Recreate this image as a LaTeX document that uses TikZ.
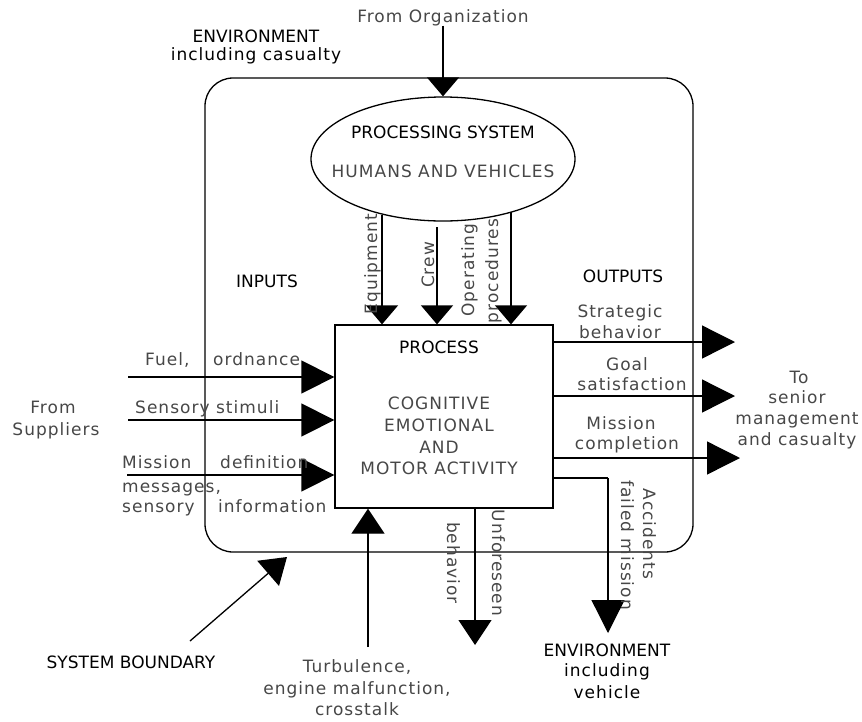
\documentclass[tikz,border=0pt]{standalone}
\usepackage{fontspec}
\setmainfont{DejaVu Sans}
\newfontfamily\spc{DejaVu Sans}[LetterSpace=6]
\usetikzlibrary{arrows.meta,shapes.geometric}
\begin{document}
\begin{tikzpicture}[x=1pt,y=-1pt,
  ln/.style={line width=1.3pt},
  ah/.style={ln,-{Triangle[length=33pt,width=33pt]}},
  av/.style={ln,-{Triangle[length=19pt,width=32pt]}},
  ab/.style={ln,-{Triangle[length=25pt,width=33pt]}},
  hd/.style={font=\fontsize{17}{21}\selectfont, inner sep=0pt, anchor=base},
  hdl/.style={font=\spc\fontsize{17}{21}\selectfont, inner sep=0pt, anchor=base},
  tx/.style={font=\spc\fontsize{17}{21}\selectfont, text=black!72, inner sep=0pt, anchor=base},
  txw/.style={tx, anchor=base west},
]
\useasboundingbox (0,0) rectangle (862,721);

% system boundary
\node[draw, ln, rounded corners=28pt, minimum width=488pt, minimum height=474pt, inner sep=0pt] (bnd) at (449,315) {};

% processing system
\node[draw, ln, ellipse, minimum width=264pt, minimum height=124pt, inner sep=0pt] (ps) at (443,159) {};
\node[hd] (pst) at (443,138) {PROCESSING SYSTEM};
\node[tx] (hv) at (443,177) {HUMANS AND VEHICLES};

% process box
\node[draw, ln, minimum width=218pt, minimum height=183pt, inner sep=0pt] (proc) at (444,416.5) {};
\node[hd] (pr1) at (439,353) {PROCESS};
\node[tx] (pr2) at (439,409) {COGNITIVE};
\node[tx] (pr3) at (439,431) {EMOTIONAL};
\node[tx] (pr4) at (439,453) {AND};
\node[tx] (pr5) at (439,474) {MOTOR ACTIVITY};

% top
\node[tx] (fo) at (443,22) {From Organization};
\draw[av] (fo.south) -- (ps.north);
\node[hd] (env1) at (256,42) {ENVIRONMENT};
\node[hdl] (env2) at (256,60) {including casualty};

\node[hd] (inp) at (267,287) {INPUTS};
\node[hd] (outp) at (623,282) {OUTPUTS};

% resources from processing system
\coordinate (eqS) at (382,215);
\coordinate (crS) at (437,227);
\coordinate (opS) at (511,212);
\draw[av] (eqS) -- (eqS |- proc.north);
\draw[av] (crS) -- (crS |- proc.north);
\draw[av] (opS) -- (opS |- proc.north);
\node[tx, rotate=90] (eql) at (377,264) {Equipment};
\node[tx, rotate=90] (crl) at (434,265) {Crew};
\node[tx, rotate=90] (opl1) at (474,270) {Operating};
\node[tx, rotate=90] (opl2) at (498,271) {procedures};

% inputs
\coordinate (i1) at (128,377);
\coordinate (i2) at (128,420);
\coordinate (i3) at (127,475);
\draw[ah] (i1) -- (i1 -| proc.west);
\draw[ah] (i2) -- (i2 -| proc.west);
\draw[ah] (i3) -- (i3 -| proc.west);
\node[txw] (fu1) at (145,365) {Fuel,};
\node[txw] (fu2) at (213,365) {ordnance};
\node[txw] (ss) at (135,413) {Sensory stimuli};
\node[txw] (md1) at (122,468) {Mission};
\node[txw] (md2) at (220,468) {definition};
\node[txw] (mm) at (122,492) {messages,};
\node[txw] (si1) at (122,512) {sensory};
\node[txw] (si2) at (218,512) {information};
\node[tx] (fs1) at (53,413) {From};
\node[tx] (fs2) at (56,435) {Suppliers};

% outputs
\coordinate (o1) at (735,342);
\coordinate (o2) at (735,396);
\coordinate (o3) at (740,458);
\draw[ah] (proc.east |- o1) -- (o1);
\draw[ah] (proc.east |- o2) -- (o2);
\draw[ah] (proc.east |- o3) -- (o3);
\node[tx] (sb1) at (620,317) {Strategic};
\node[tx] (sb2) at (620,338) {behavior};
\node[tx] (gs1) at (627,370) {Goal};
\node[tx] (gs2) at (632,390) {satisfaction};
\node[tx] (mc1) at (621,429) {Mission};
\node[tx] (mc2) at (627,449) {completion};
\node[tx] (ts1) at (799,383) {To};
\node[tx] (ts2) at (797,403) {senior};
\node[tx] (ts3) at (797,424) {management};
\node[tx] (ts4) at (797,445) {and casualty};

% accidents
\coordinate (acc1) at (608,478);
\coordinate (acc2) at (608,633);
\draw[ln] (proc.east |- acc1) -- (acc1);
\draw[ah] (acc1) -- (acc2);
\node[tx, rotate=-90] (fm) at (621,545) {failed mission};
\node[tx, rotate=-90] (ac) at (643,534) {Accidents};
\node[hd] (ev1) at (607,656) {ENVIRONMENT};
\node[hdl] (ev2) at (607,676) {including};
\node[hdl] (ev3) at (607,698) {vehicle};

% unforeseen behavior
\coordinate (unf) at (475,645);
\draw[ab] (unf |- proc.south) -- (unf);
\node[tx, rotate=-90] (un1) at (492,563) {Unforeseen};
\node[tx, rotate=-90] (un2) at (447,563) {behavior};

% turbulence
\coordinate (turb) at (368,647);
\draw[ab] (turb) -- (turb |- proc.south);
\node[tx] (tu1) at (357,672) {Turbulence,};
\node[tx] (tu2) at (357,694) {engine malfunction,};
\node[tx] (tu3) at (357,715) {crosstalk};

% system boundary pointer
\coordinate (sbS) at (190,641);
\coordinate (sbT) at (287,557);
\draw[ab] (sbS) -- (sbT);
\node[hd] (sbl) at (131,668) {SYSTEM BOUNDARY};
\end{tikzpicture}
\end{document}
